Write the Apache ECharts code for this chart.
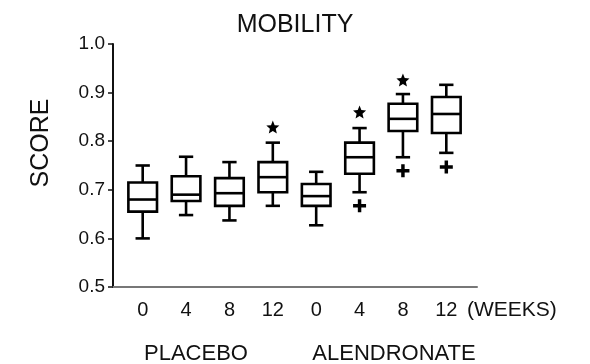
<!DOCTYPE html>
<html>
<head>
<meta charset="utf-8">
<script src="https://cdn.jsdelivr.net/npm/echarts@6/dist/echarts.min.js"></script>
<style>
  html, body { margin: 0; padding: 0; background: #fff; }
  #main { width: 590px; height: 364px; }
</style>
</head>
<body>
<div id="main"></div>
<script>
var weeks = ['0', '4', '8', '12', '0', '4', '8', '12'];
// low whisker, q1, median, q3, high whisker
var lows    = [0.600, 0.648, 0.637, 0.667, 0.627, 0.695, 0.767, 0.776];
var q1s     = [0.655, 0.677, 0.667, 0.695, 0.667, 0.733, 0.821, 0.817];
var medians = [0.680, 0.690, 0.693, 0.726, 0.687, 0.767, 0.846, 0.856];
var q3s     = [0.715, 0.728, 0.724, 0.757, 0.712, 0.797, 0.877, 0.891];
var highs   = [0.750, 0.768, 0.757, 0.797, 0.737, 0.827, 0.897, 0.916];
// significance stars and outlier crosses: [category index, value]
var stars   = [[3, 0.829], [5, 0.860], [6, 0.926]];
var crosses = [[5, 0.667], [6, 0.739], [7, 0.747]];

var boxData = weeks.map(function (w, i) {
  return [i, lows[i], q1s[i], medians[i], q3s[i], highs[i]];
});

var FONT = 'Liberation Sans, Arial, sans-serif';
var starPath = 'path://M0,-10L2.645,-3.64L9.51,-3.09L4.28,1.39L5.88,8.09L0,4.5L-5.88,8.09L-4.28,1.39L-9.51,-3.09L-2.645,-3.64Z';
var plusPath = 'path://M-1.6,-6H1.6V-1.6H6V1.6H1.6V6H-1.6V1.6H-6V-1.6H-1.6Z';

function renderBox(params, api) {
  var x = api.value(0);
  var lo = api.coord([x, api.value(1)]);
  var q1 = api.coord([x, api.value(2)]);
  var md = api.coord([x, api.value(3)]);
  var q3 = api.coord([x, api.value(4)]);
  var hi = api.coord([x, api.value(5)]);
  var band = api.size([1, 0])[0];
  var w = band * 0.66;
  var cap = band * 0.33;
  var cx = lo[0];
  var st = { stroke: '#000', lineWidth: 2.6 };
  return {
    type: 'group',
    children: [
      { type: 'line', shape: { x1: cx, y1: q3[1], x2: cx, y2: hi[1] }, style: st },
      { type: 'line', shape: { x1: cx, y1: q1[1], x2: cx, y2: lo[1] }, style: st },
      { type: 'line', shape: { x1: cx - cap / 2, y1: hi[1], x2: cx + cap / 2, y2: hi[1] }, style: st },
      { type: 'line', shape: { x1: cx - cap / 2, y1: lo[1], x2: cx + cap / 2, y2: lo[1] }, style: st },
      { type: 'rect', shape: { x: cx - w / 2, y: q3[1], width: w, height: q1[1] - q3[1] },
        style: { fill: '#fff', stroke: '#000', lineWidth: 2.6 } },
      { type: 'line', shape: { x1: cx - w / 2, y1: md[1], x2: cx + w / 2, y2: md[1] }, style: st }
    ]
  };
}

var chart = echarts.init(document.getElementById('main'));
chart.setOption({
  animation: false,
  backgroundColor: '#fff',
  title: {
    text: 'MOBILITY',
    left: 'center',
    top: 8,
    textStyle: { fontFamily: FONT, fontSize: 25, fontWeight: 'normal', color: '#111' }
  },
  grid: [
    { left: 121, right: 122, top: 44, bottom: 77 },
    { left: 113, right: 113, top: 44, bottom: 77 }
  ],
  xAxis: [
    {
      gridIndex: 0, type: 'category', data: weeks, boundaryGap: true,
      axisLine: { show: false }, axisTick: { show: false },
      axisLabel: { margin: 13, fontFamily: FONT, fontSize: 20, color: '#111' }
    },
    {
      gridIndex: 1, type: 'value', min: 0, max: 1,
      axisLine: { lineStyle: { color: '#777', width: 2 } },
      axisTick: { show: false }, axisLabel: { show: false }, splitLine: { show: false }
    }
  ],
  yAxis: [
    {
      gridIndex: 0, type: 'value', min: 0.5, max: 1.0, interval: 0.1,
      show: false
    },
    {
      gridIndex: 1, type: 'value', min: 0.5, max: 1.0, interval: 0.1,
      axisLine: { show: true, lineStyle: { color: '#111', width: 2 } },
      axisTick: { show: true, length: 5, lineStyle: { color: '#111', width: 1.5 } },
      splitLine: { show: false },
      axisLabel: {
        margin: 8, fontFamily: FONT, fontSize: 19, color: '#111',
        formatter: function (v) { return v.toFixed(1); }
      }
    }
  ],
  graphic: [
    { type: 'text', x: 41, y: 143, rotation: Math.PI / 2,
      style: { text: 'SCORE', align: 'center', verticalAlign: 'middle', font: '25px ' + FONT, fill: '#111' } },
    { type: 'text', x: 467, y: 310,
      style: { text: '(WEEKS)', align: 'left', verticalAlign: 'middle', font: '21px ' + FONT, fill: '#111' } },
    { type: 'text', x: 196, y: 354,
      style: { text: 'PLACEBO', align: 'center', verticalAlign: 'middle', font: '22px ' + FONT, fill: '#111' } },
    { type: 'text', x: 394, y: 354,
      style: { text: 'ALENDRONATE', align: 'center', verticalAlign: 'middle', font: '22px ' + FONT, fill: '#111' } }
  ],
  series: [
    {
      type: 'custom', xAxisIndex: 0, yAxisIndex: 0,
      renderItem: renderBox,
      encode: { x: 0, y: [1, 2, 3, 4, 5] },
      data: boxData
    },
    {
      type: 'scatter', xAxisIndex: 0, yAxisIndex: 0,
      symbol: starPath, symbolSize: [13, 13],
      itemStyle: { color: '#000', opacity: 1 },
      data: stars
    },
    {
      type: 'scatter', xAxisIndex: 0, yAxisIndex: 0,
      symbol: plusPath, symbolSize: [13, 13],
      itemStyle: { color: '#000', opacity: 1 },
      data: crosses
    }
  ]
});
</script>
</body>
</html>
